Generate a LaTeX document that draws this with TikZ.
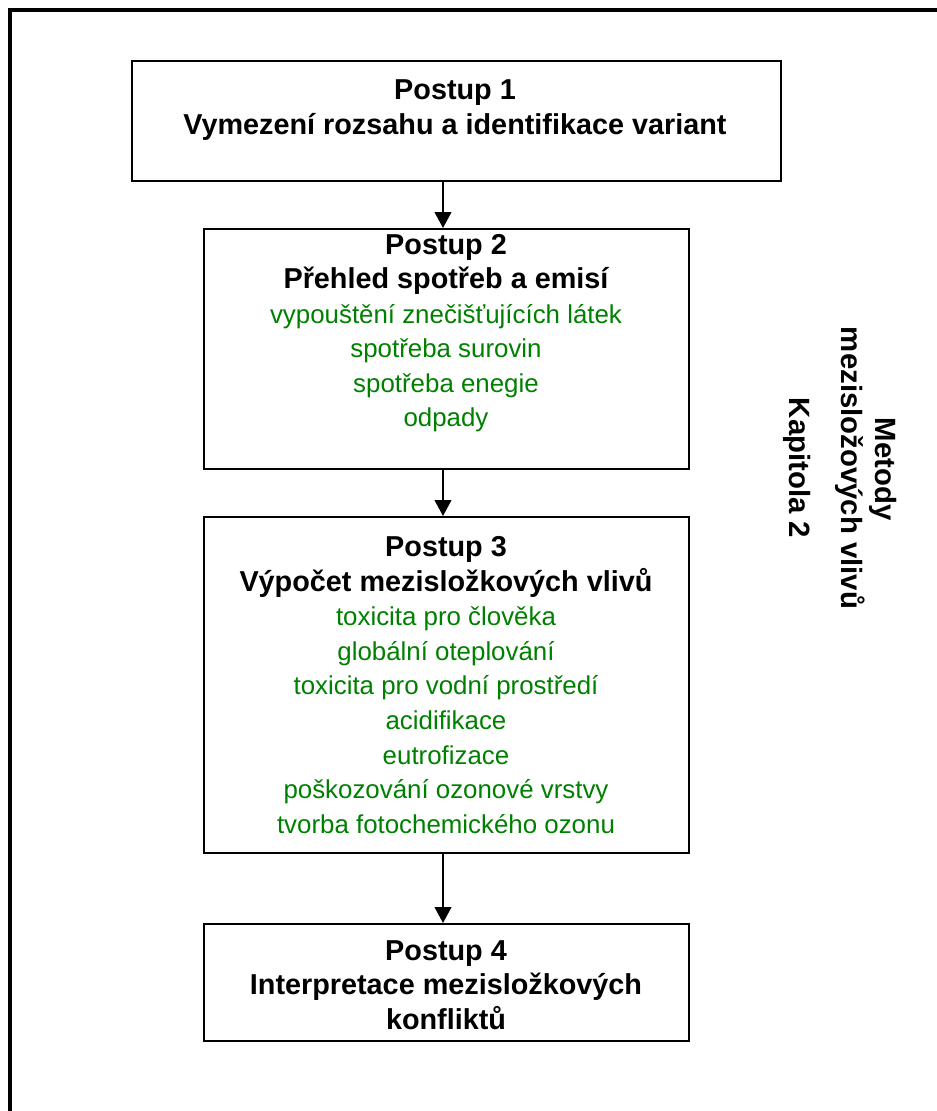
\documentclass[tikz,border=0pt]{standalone}
\usepackage{fontspec}
\setmainfont{Liberation Sans}
\usetikzlibrary{arrows.meta}
\definecolor{itemgreen}{RGB}{0,128,0}
\newcommand\hd[1]{{\fontsize{21.6}{25.9}\selectfont\bfseries #1}}
\newcommand\gi[1]{{\color{itemgreen}#1}}
\begin{document}
\begin{tikzpicture}[x=0.75pt,y=-0.75pt,
  box/.style={draw=black,line width=1.6pt,rectangle,inner sep=0pt,anchor=north west},
  txt/.style={align=center,inner sep=0pt,font=\fontsize{19.4}{25.9}\selectfont},
  flow/.style={line width=1.5pt,-{Triangle[length=12pt,width=12.5pt]}},
  side/.style={inner sep=0pt,rotate=-90,font=\fontsize{22}{26}\selectfont\bfseries}]
\useasboundingbox (0,0) rectangle (936,1111);
% outer frame (top and left edges visible)
\draw[line width=2.4pt] (10,1120) -- (10,10) -- (950,10);

% process boxes
\node[box,minimum width=649*0.75pt,minimum height=120*0.75pt] (b1) at (131,60) {};
\node[box,minimum width=485*0.75pt,minimum height=240*0.75pt] (b2) at (203,228) {};
\node[box,minimum width=485*0.75pt,minimum height=336*0.75pt] (b3) at (203,516) {};
\node[box,minimum width=485*0.75pt,minimum height=117*0.75pt] (b4) at (203,923) {};

% box texts
\node[txt] (t1) at (455,110) {\hd{Postup 1}\\\hd{Vymezení rozsahu a identifikace variant}};
\node[txt] (t2) at (446,333) {\hd{Postup 2}\\\hd{Přehled spotřeb a emisí}\\
  \gi{vypouštění znečišťujících látek}\\\gi{spotřeba surovin}\\
  \gi{spotřeba enegie}\\\gi{odpady}};
\node[txt] (t3) at (446,685) {\hd{Postup 3}\\\hd{Výpočet mezisložkových vlivů}\\
  \gi{toxicita pro člověka}\\\gi{globální oteplování}\\
  \gi{toxicita pro vodní prostředí}\\\gi{acidifikace}\\
  \gi{eutrofizace}\\\gi{poškozování ozonové vrstvy}\\
  \gi{tvorba fotochemického ozonu}};
\node[txt] (t4) at (446,985) {\hd{Postup 4}\\\hd{Interpretace mezisložkových}\\\hd{konfliktů}};

% side caption
\node[side] (s1) at (883,469) {Metody};
\node[side] (s2) at (850,468) {mezisložových vlivů};
\node[side] (s3) at (797,468) {Kapitola 2};

% connectors
\draw[flow] (b1.south -| 443,0) -- (b2.north -| 443,0);
\draw[flow] (b2.south -| 443,0) -- (b3.north -| 443,0);
\draw[flow] (b3.south -| 443,0) -- (b4.north -| 443,0);
\end{tikzpicture}
\end{document}
